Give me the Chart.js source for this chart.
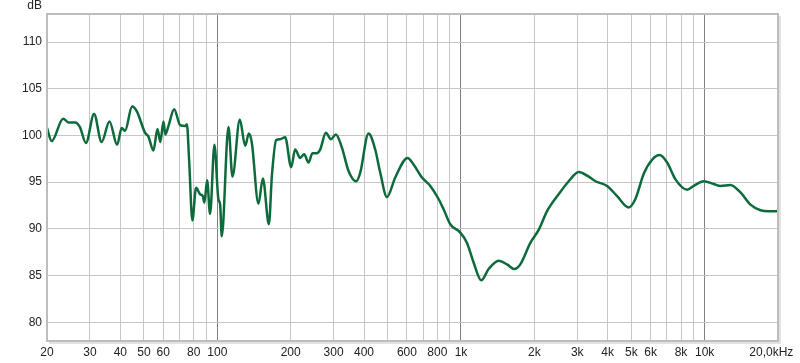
<!DOCTYPE html>
<html>
<head>
<meta charset="utf-8">
<script src="https://cdn.jsdelivr.net/npm/chart.js@4"></script>
<style>
  body { margin: 0; background: #fff; }
  canvas { display: block; }
</style>
</head>
<body>
<canvas id="fr" width="800" height="363"></canvas>
<script>
// frequency (Hz) and level (dB)
const freqs = [20, 20.9, 23.3, 24.5, 26.1, 27.3, 28.9, 31.2, 33.5, 36.1, 38.8, 40.5, 41.8, 44.7, 46.7,
  50.5, 52.1, 54.7, 56.8, 58.4, 60.1, 61.2, 63.0, 66.5, 70.4, 73.8, 75.0, 76.6, 79.0, 81.8, 85.0,
  87.2, 88.5, 90.8, 93.4, 97.3, 101, 102.7, 104.3, 111.1, 115.4, 123.7, 130.1, 134.7, 138.6, 147.5,
  153.8, 162.8, 167.5, 174.4, 181.1, 189.9, 201, 208.6, 218.8, 227.2, 236.6, 245.8, 256.2, 264.4,
  279, 292.6, 306.6, 324.6, 345.6, 371.6, 385.8, 417.4, 444.6, 466.4, 496.8, 537.4, 603.6, 638.8,
  691.6, 748.2, 809.2, 848.4, 903.8, 993.4, 1058.6, 1126.6, 1211.6, 1298.4, 1427, 1545, 1655.6,
  1752, 1926, 2084, 2256, 2516, 2768, 3042, 3294, 3562, 3978, 4374, 4880, 5198, 5624, 6086, 6538,
  7016, 7588, 8476, 9020, 9916, 10900, 11612, 12764, 14030, 15418, 16952, 18334, 20000];
const levels = [100.8, 99.4, 101.8, 101.4, 101.4, 100.9, 99.2, 102.3, 99.3, 101.5, 99.0, 100.8, 100.5, 103.1, 102.6,
  100.3, 99.9, 98.4, 100.7, 99.3, 101.5, 100.1, 101.0, 102.8, 101.1, 101.0, 101.2, 97.4, 90.9, 94.4, 93.7,
  93.5, 92.8, 95.2, 91.6, 99.0, 93.2, 92.6, 89.2, 100.9, 95.6, 101.7, 98.9, 100.2, 99.2, 92.7,
  95.4, 90.5, 95.7, 99.5, 99.6, 99.8, 96.6, 98.5, 97.6, 98.0, 97.1, 98.1, 98.1, 98.5,
  100.3, 99.6, 100.1, 98.7, 96.2, 95.1, 96.0, 100.2, 98.5, 96.0, 93.4, 95.5, 97.6, 96.9,
  95.5, 94.6, 93.2, 92.1, 90.5, 89.6, 88.5, 86.4, 84.5, 85.7, 86.6, 86.2, 85.7,
  86.2, 88.5, 89.9, 91.9, 93.7, 95.1, 96.1, 95.7, 95.1, 94.6, 93.5, 92.3, 93.2, 95.9, 97.4, 97.9,
  97.1, 95.3, 94.2, 94.6, 95.1, 94.8, 94.6, 94.7, 93.9, 92.6, 92.0, 91.9, 91.9];

const xTickValues = [20, 30, 40, 50, 60, 70, 80, 90, 100, 200, 300, 400, 500, 600, 700, 800, 900,
  1000, 2000, 3000, 4000, 5000, 6000, 7000, 8000, 9000, 10000, 20000];
const xTickLabels = ['20', '30', '40', '50', '60', '', '80', '', '100', '200', '300', '400', '', '600', '', '800', '',
  '1k', '2k', '3k', '4k', '5k', '6k', '', '8k', '', '10k', '20,0kHz'];
const yTickValues = [80, 85, 90, 95, 100, 105, 110];
const decades = [100, 1000, 10000];

const frame = {
  id: 'frame',
  afterDraw(chart) {
    const { ctx, chartArea: a } = chart;
    ctx.save();
    ctx.strokeStyle = '#e2e2e2';
    ctx.lineWidth = 2;
    ctx.beginPath();
    ctx.moveTo(a.right + 2, a.top + 2);
    ctx.lineTo(a.right + 2, a.bottom + 2);
    ctx.lineTo(a.left + 2, a.bottom + 2);
    ctx.stroke();
    ctx.strokeStyle = '#bdbdbd';
    ctx.lineWidth = 2;
    ctx.strokeRect(a.left, a.top, a.right - a.left, a.bottom - a.top);
    ctx.fillStyle = '#222';
    ctx.font = '12px "Liberation Sans", Arial, sans-serif';
    ctx.textAlign = 'right';
    ctx.textBaseline = 'middle';
    ctx.fillText('dB', 42, 6);
    ctx.restore();
  }
};

new Chart(document.getElementById('fr'), {
  type: 'line',
  data: {
    datasets: [{
      data: freqs.map((f, i) => ({ x: f, y: levels[i] })),
      borderColor: '#0d6b3b',
      borderWidth: 2.5,
      pointRadius: 0,
      cubicInterpolationMode: 'monotone',
      fill: false
    }]
  },
  options: {
    responsive: false,
    animation: false,
    layout: { padding: { top: 14, right: 22, left: 0, bottom: 0 } },
    plugins: { legend: { display: false }, tooltip: { enabled: false } },
    scales: {
      x: {
        type: 'logarithmic',
        min: 20,
        max: 20000,
        afterBuildTicks: (s) => { s.ticks = xTickValues.map(v => ({ value: v })); },
        afterFit: (s) => { s.height = 22; s.paddingLeft = 0; s.paddingRight = 0; },
        border: { display: false },
        grid: {
          drawTicks: false,
          color: (c) => decades.includes(c.tick && c.tick.value) ? '#808080' : '#c6c6c6',
          lineWidth: 1
        },
        ticks: {
          autoSkip: false,
          maxRotation: 0,
          padding: 4,
          color: '#222',
          font: { family: '"Liberation Sans", Arial, sans-serif', size: 12 },
          callback: (v, i) => i === xTickLabels.length - 1 ? xTickLabels[i] + '    ' : xTickLabels[i]
        }
      },
      y: {
        min: 78,
        max: 113,
        afterBuildTicks: (s) => { s.ticks = yTickValues.map(v => ({ value: v })); },
        afterFit: (s) => { s.width = 47; },
        border: { display: false },
        grid: { drawTicks: false, color: '#c6c6c6', lineWidth: 1 },
        ticks: {
          padding: 5,
          color: '#222',
          font: { family: '"Liberation Sans", Arial, sans-serif', size: 12 },
          callback: (v) => String(v)
        }
      }
    }
  },
  plugins: [frame]
});
</script>
</body>
</html>
